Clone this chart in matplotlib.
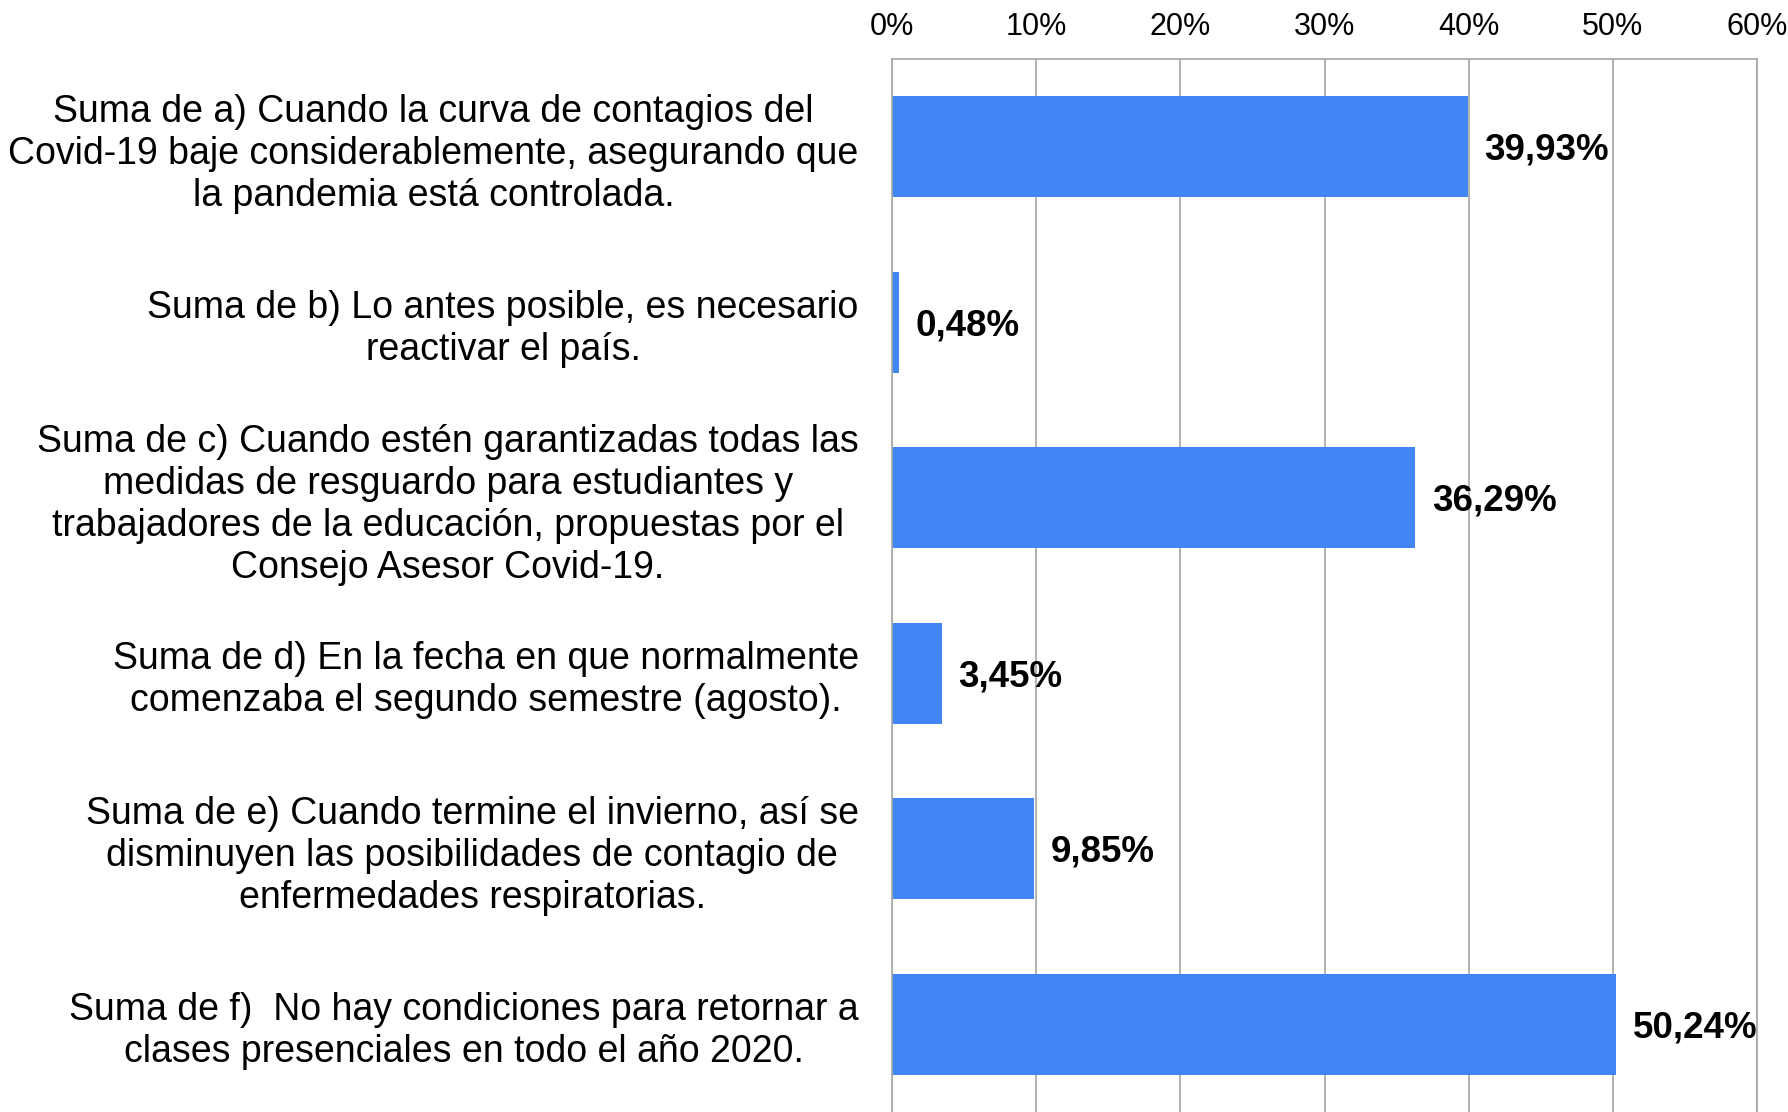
import matplotlib.pyplot as plt
from matplotlib.ticker import FuncFormatter

# answers (survey options) and their share of responses
categories = [
    'Suma de a) Cuando la curva de contagios del\nCovid-19 baje considerablemente, asegurando que\nla pandemia está controlada.',
    'Suma de b) Lo antes posible, es necesario\nreactivar el país.',
    'Suma de c) Cuando estén garantizadas todas las\nmedidas de resguardo para estudiantes y\ntrabajadores de la educación, propuestas por el\nConsejo Asesor Covid-19.',
    'Suma de d) En la fecha en que normalmente\ncomenzaba el segundo semestre (agosto).',
    'Suma de e) Cuando termine el invierno, así se\ndisminuyen las posibilidades de contagio de\nenfermedades respiratorias.',
    'Suma de f)  No hay condiciones para retornar a\nclases presenciales en todo el año 2020.',
]
values = [39.93, 0.48, 36.29, 3.45, 9.85, 50.24]
xticks = [0, 10, 20, 30, 40, 50, 60]

plt.rcParams['font.family'] = ['Liberation Sans', 'DejaVu Sans']

fig = plt.figure(figsize=(17.88, 11.12), dpi=100)
ax = fig.add_axes([0.4989, 0.0, 0.4838, 0.947])

pos = list(range(len(values)))
ax.barh(pos, values, height=0.575, color='#4285f4', zorder=2)

for y, v in zip(pos, values):
    ax.annotate(f'{v:.2f}%'.replace('.', ','), (v, y), xytext=(12, -2.5),
                textcoords='offset points', va='center', ha='left',
                fontsize=26.5, fontweight='bold', zorder=3)

ax.set_ylim(5.5, -0.5)
ax.set_xlim(0, 60)
ax.set_xticks(xticks)
ax.xaxis.set_major_formatter(FuncFormatter(lambda x, p: f'{x:.0f}%'))
ax.xaxis.tick_top()
ax.grid(axis='x', color='#a6a6a6', linewidth=1.2, zorder=0)
ax.tick_params(axis='x', length=0, pad=12, labelsize=22)
for lab in ax.get_xticklabels():
    lab.set_family(['Liberation Sans Narrow', 'Liberation Sans'])

ax.set_yticks(pos)
ax.set_yticklabels(categories, fontsize=27, multialignment='center', linespacing=1.22)
ax.tick_params(axis='y', length=0, pad=24)

ax.spines['bottom'].set_visible(False)
for s in ['top', 'left', 'right']:
    ax.spines[s].set_color('#a6a6a6')
    ax.spines[s].set_linewidth(1.2)

fig.savefig('out.png', dpi=100)
